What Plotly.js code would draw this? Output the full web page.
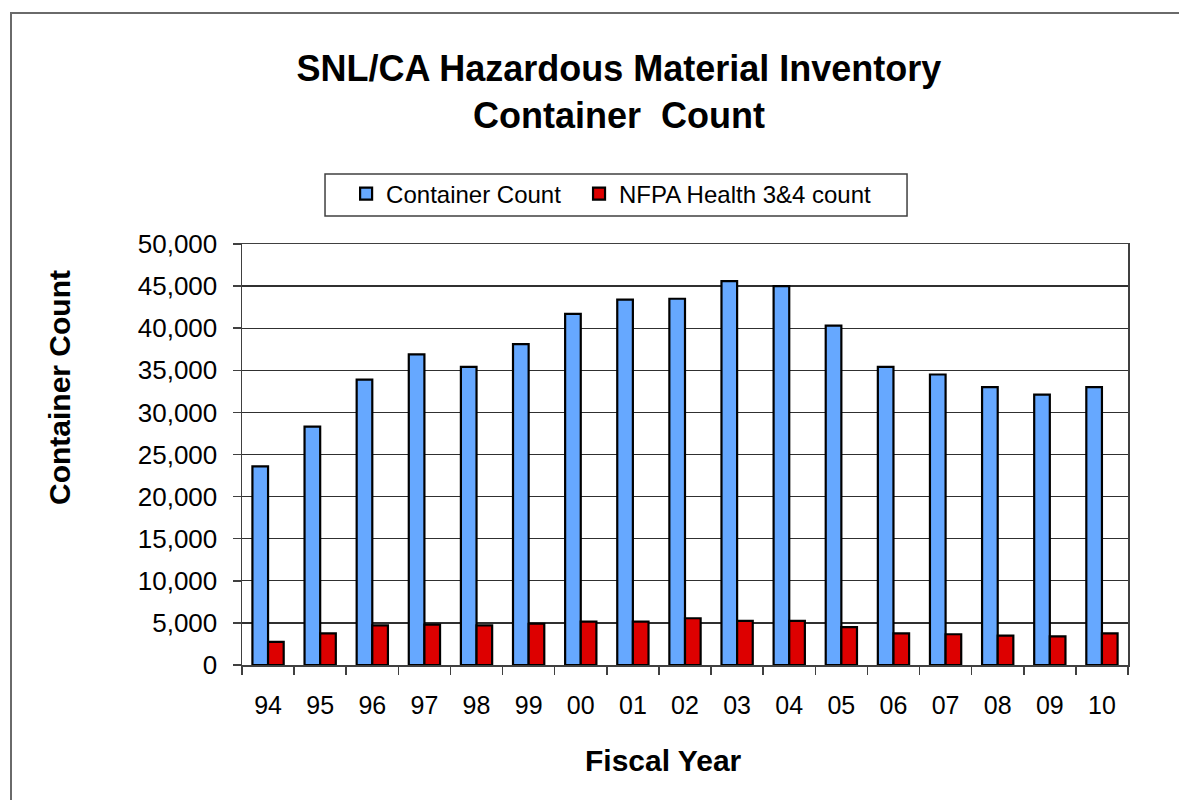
<!DOCTYPE html>
<html>
<head>
<meta charset="utf-8">
<script src="https://cdn.plot.ly/plotly-3.0.1.min.js"></script>
<style>
  html, body { margin: 0; padding: 0; background: #fff; }
  #wrap { position: relative; width: 1179px; height: 800px; }
  #chart { position: absolute; left: 0; top: 0; width: 1179px; height: 800px; }
  #frame { position: absolute; left: 10px; top: 12px; width: 1200px; height: 820px;
           border-left: 2px solid #6a6a6a; border-top: 2px solid #6a6a6a; pointer-events: none; }
</style>
</head>
<body>
<div id="wrap">
  <div id="chart"></div>
  <div id="frame"></div>
</div>
<script>
const fiscalYears = ['94','95','96','97','98','99','00','01','02','03','04','05','06','07','08','09','10'];
const containerCount = [23600, 28300, 33900, 36900, 35400, 38100, 41700, 43400, 43500, 45600, 45000, 40300, 35400, 34500, 33000, 32100, 33000];
const nfpaHealthCount = [2750, 3750, 4700, 4800, 4700, 4900, 5150, 5150, 5550, 5250, 5250, 4500, 3750, 3650, 3500, 3400, 3750];
const yTickValues = [0, 5000, 10000, 15000, 20000, 25000, 30000, 35000, 40000, 45000, 50000];

const FONT = 'Arial, "Liberation Sans", sans-serif';

const traces = [
  {
    type: 'bar', name: 'Container Count', x: fiscalYears, y: containerCount, legend: 'legend',
    marker: { color: '#66A8FF', line: { color: '#000000', width: 2.2 } },
    hoverinfo: 'x+y'
  },
  {
    type: 'bar', name: 'NFPA Health 3&4 count', x: fiscalYears, y: nfpaHealthCount, legend: 'legend2',
    marker: { color: '#DD0000', line: { color: '#000000', width: 2.2 } },
    hoverinfo: 'x+y'
  }
];

const legendBase = {
  orientation: 'h', xref: 'paper', yref: 'paper', xanchor: 'left', y: 1.172, yanchor: 'top',
  borderwidth: 0, bgcolor: 'rgba(0,0,0,0)',
  font: { family: FONT, size: 24, color: '#000' }
};

const layout = {
  width: 1179, height: 800,
  margin: { l: 242, r: 51, t: 244, b: 135, pad: 0 },
  paper_bgcolor: '#ffffff', plot_bgcolor: '#ffffff',
  font: { family: FONT, color: '#000000', size: 24 },
  barmode: 'group', bargap: 0.4, bargroupgap: 0,
  title: {
    text: 'SNL/CA Hazardous Material Inventory<br>Container  Count',
    font: { family: FONT, size: 36, color: '#000000', weight: 'bold' },
    xref: 'container', yref: 'container', x: 0.525, xanchor: 'center', y: 0.899, yanchor: 'middle'
  },
  xaxis: {
    type: 'category', tickson: 'boundaries', ticks: 'outside', ticklen: 8, tickwidth: 1.5, tickcolor: '#404040',
    showline: true, linecolor: '#404040', linewidth: 1.5, mirror: true, ticklabelstandoff: 17,
    showgrid: false, tickfont: { family: FONT, size: 25, color: '#000' }, automargin: false
  },
  yaxis: {
    range: [0, 50000], tickvals: yTickValues, tickformat: ',d',
    ticks: 'outside', ticklen: 8, tickwidth: 1.5, tickcolor: '#404040',
    showline: true, linecolor: '#404040', linewidth: 1.5, mirror: true, ticklabelstandoff: 10,
    showgrid: true, gridcolor: '#303030', gridwidth: 1.3, zeroline: false,
    tickfont: { family: FONT, size: 26, color: '#000' }, automargin: false
  },
  legend: Object.assign({}, legendBase, { x: 0.1175 }),
  legend2: Object.assign({}, legendBase, { x: 0.3804 }),
  shapes: [
    {
      type: 'rect', xref: 'paper', yref: 'paper', x0: 0.0937, x1: 0.7506, y0: 1.0665, y1: 1.1663,
      line: { color: '#404040', width: 1.5 }, fillcolor: 'rgba(0,0,0,0)', layer: 'below'
    }
  ],
  annotations: [
    {
      text: 'Container Count', textangle: -90, showarrow: false,
      xref: 'paper', yref: 'paper', x: -0.2054, y: 0.658, xanchor: 'center', yanchor: 'middle',
      font: { family: FONT, size: 30, color: '#000', weight: 'bold' }
    },
    {
      text: 'Fiscal Year', showarrow: false,
      xref: 'paper', yref: 'paper', x: 0.476, y: -0.2257, xanchor: 'center', yanchor: 'middle',
      font: { family: FONT, size: 30, color: '#000', weight: 'bold' }
    }
  ],
  showlegend: true
};

Plotly.newPlot('chart', traces, layout, { displayModeBar: false, staticPlot: true });
</script>
</body>
</html>
